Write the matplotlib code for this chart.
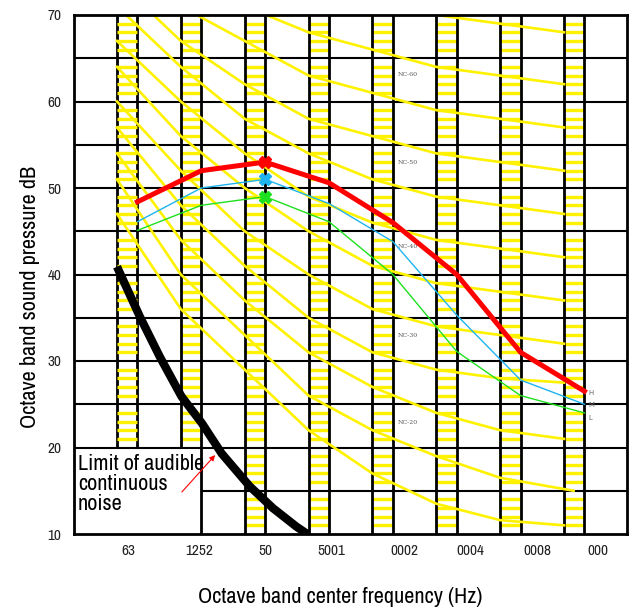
import matplotlib
matplotlib.use("Agg")
import matplotlib.pyplot as plt
from matplotlib import font_manager

_faces = {}
for f in font_manager.fontManager.ttflist:
    if f.style == 'normal':
        _faces.setdefault(f.name, []).append(f)
NARROW = 'Liberation Sans'
for cand in ['Arial Narrow', 'Liberation Sans Narrow', 'Nimbus Sans Narrow',
             'Archivo Narrow', 'Roboto Condensed', 'PT Sans Narrow', 'Asap Condensed']:
    if cand in _faces:
        NARROW = cand
        break

# ---------------- data ----------------
band_labels = ["63", "1252", "50", "5001", "0002", "0004", "0008", "000"]
band_label_pos = [0.172, 1.284, 2.318, 3.351, 4.494, 5.528, 6.577, 7.532]

# measured spectra (H, M, L)
spec_high = [48.4, 52.0, 53.0, 50.6, 46.0, 40.0, 31.0, 26.5]
spec_mid = [46.1, 50.0, 51.0, 48.2, 43.8, 35.3, 27.8, 25.0]
spec_low = [45.1, 48.0, 49.0, 46.1, 40.0, 31.1, 26.0, 24.0]
peak_band = 2

# NC curves (values per octave band 63..8000 Hz)
nc_names = [15, 20, 25, 30, 35, 40, 45, 50, 55, 60, 65, 70]
nc_values = [
    [47, 36, 29, 22, 17, 13.5, 11.6, 11],
    [51, 40, 33, 26, 22, 19, 16.5, 15],
    [54, 44, 37, 31, 27, 24, 22, 21],
    [57, 48, 41, 35, 31, 29, 28, 27.5],
    [60, 52, 45, 40, 36, 34, 33, 32],
    [64, 56, 50, 45, 41, 39, 38, 37],
    [67, 60, 54, 49, 46, 44, 43, 42],
    [71, 64, 58, 54, 51, 49, 48, 47],
    [74, 67, 62, 58, 56, 54, 53, 52],
    [77, 71, 67, 63, 61, 59, 58, 57],
    [80, 75, 71, 68, 66, 64, 63, 62],
    [83, 79, 75, 72, 71, 70, 69, 68],
]
nc_label_names = ["NC-60", "NC-50", "NC-40", "NC-30", "NC-20"]
nc_label_levels = [63.1, 53.0, 43.2, 33.0, 22.9]

# limit of audible continuous noise
thr_x = [0.0, 0.36, 0.67, 1.01, 1.33, 1.64, 2.08, 2.44, 2.81, 2.98]
thr_db = [40.9, 35.1, 30.5, 25.9, 22.8, 19.3, 15.5, 13.0, 10.85, 10.0]

y_ticks = [10, 20, 30, 40, 50, 60, 70]

# ---------------- figure ----------------
fig = plt.figure(figsize=(6.32, 6.13), dpi=100)
ax = fig.add_axes([74 / 632, 79 / 613, 553 / 632, 519 / 613])
XMIN, XMAX = -0.673, 7.986
ax.set_xlim(XMIN, XMAX)
ax.set_ylim(10, 70)
W = 0.32  # column width
YEL = '#FFF200'
n = len(band_labels)

# horizontal grid lines
for lev in range(15, 70, 5):
    x0 = XMIN if lev != 15 else 1 + W
    ax.plot([x0, XMAX], [lev, lev], color='black', lw=1.5, zorder=2,
            solid_capstyle='butt')

# vertical column lines + yellow bars
for i in range(n):
    bottom = 20 if i < 2 else 10
    ax.plot([i, i], [bottom, 70], color='black', lw=2.0, zorder=2,
            solid_capstyle='butt')
    rb = 20 if i == 0 else 10
    ax.plot([i + W, i + W], [rb, 70], color='black', lw=2.0, zorder=2,
            solid_capstyle='butt')
    for lev in range(bottom + 1, 70):
        if lev % 5 == 0:
            continue
        ax.plot([i, i + W], [lev, lev], color=YEL, lw=2.4,
                zorder=3.5 if i == 0 else 1.5, solid_capstyle='butt')

# NC curves
for name, vals in zip(nc_names, nc_values):
    xs = list(range(n))
    if name == 20:
        xs[-1] = 7.15
    ax.plot(xs, vals, color=YEL, lw=1.9, zorder=3)

for lab, lev in zip(nc_label_names, nc_label_levels):
    ax.text(4.40, lev, lab, fontsize=4.5, color='#555555', va='center',
            ha='left', family='DejaVu Serif', zorder=6)

# limit curve
ax.plot(thr_x, thr_db, color='black', lw=6, zorder=5, solid_capstyle='butt')

# spectra
xd = [i + W for i in range(n)]
ax.plot(xd, spec_high, color='#FF0000', lw=3.6, zorder=7)
ax.plot(xd, spec_mid, color='#1EB4F0', lw=1.0, zorder=7)
ax.plot(xd, spec_low, color='#1EE01E', lw=1.0, zorder=7)
ax.plot(xd[peak_band], spec_high[peak_band], marker='X', color='#FF0000', ms=9, zorder=8)
ax.plot(xd[peak_band], spec_mid[peak_band], marker='X', color='#1EB4F0', ms=9, zorder=8)
ax.plot(xd[peak_band], spec_low[peak_band], marker='X', color='#1EE01E', ms=9, zorder=8)

for lab, v in zip(["H", "M", "L"], [spec_high[-1] - 0.2, spec_mid[-1] - 0.1, spec_low[-1] - 0.6]):
    ax.text(7.375, v, lab, fontsize=5, color='#666666', va='center', ha='left', zorder=8)

# annotation
ax.text(-0.61, 19.2, "Limit of audible\ncontinuous\nnoise", fontsize=16,
        family=NARROW, va='top', ha='left', linespacing=1.0, zorder=8)
ax.annotate("", xy=(1.566, 19.36), xytext=(0.987, 14.62),
            arrowprops=dict(arrowstyle='-|>', color='red', lw=0.8,
                            mutation_scale=8), zorder=8)

# axes styling
for s in ax.spines.values():
    s.set_linewidth(2.0)
    s.set_color('black')
    s.set_zorder(9)
ax.set_yticks(y_ticks)
ax.set_yticklabels([str(t) for t in y_ticks], family=NARROW, fontsize=11, color='#222222')
ax.set_xticks(band_label_pos)
ax.set_xticklabels(band_labels, family=NARROW, fontsize=11, color='#222222')
ax.tick_params(length=0, pad=7)
ax.tick_params(axis='y', pad=9)
ax.set_xlabel("Octave band center frequency (Hz)", family=NARROW, fontsize=16)
ax.set_ylabel("Octave band sound pressure dB", family=NARROW, fontsize=16)
ax.xaxis.set_label_coords(0.481, -0.102)
ax.yaxis.set_label_coords(-0.062, 0.4576)

fig.savefig("out.png", dpi=100)
